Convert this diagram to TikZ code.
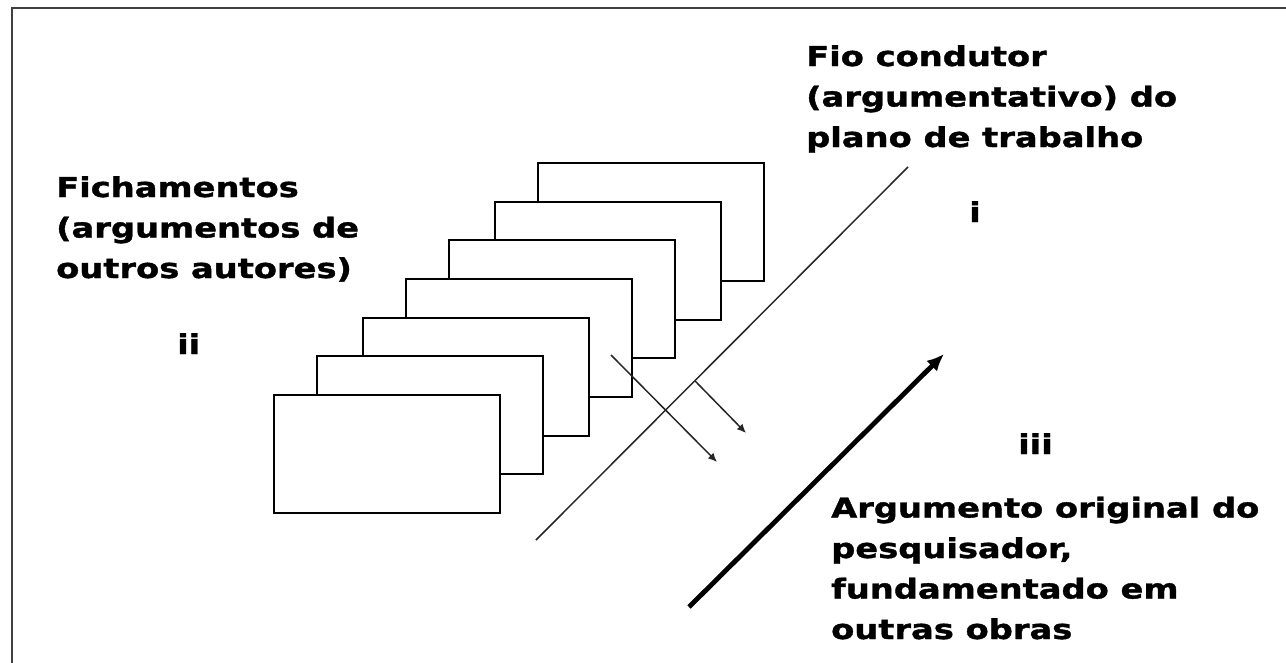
\documentclass[tikz,border=0pt]{standalone}
\usepackage{fontspec}
\newfontfamily\lbl[FakeStretch=1.23,FakeBold=1.3]{DejaVu Sans}
\usetikzlibrary{arrows.meta}
\begin{document}
\begin{tikzpicture}[x=1pt,y=-1pt,
  card/.style={draw=black,line width=2.4pt,fill=white,minimum width=226pt,minimum height=118pt,inner sep=0pt,anchor=north west},
  label/.style={anchor=base west,inner sep=0pt,align=left,font=\lbl\bfseries\fontsize{27.4}{40.5}\selectfont},
  thin/.style={line width=1.5pt,black!85},
  smallarrow/.style={thin,-{Latex[length=9pt,width=8pt]}},
  bigarrow/.style={line width=4.8pt,-{Latex[length=17pt,width=15pt]}}]
\useasboundingbox (0,0) rectangle (1286,662);
% frame
\draw[line width=2.8pt,black!75] (12,675) -- (12,8) -- (1295,8);
% cards (back to front)
\node[card] (c7) at (537,162) {};
\node[card] (c6) at (494,201) {};
\node[card] (c5) at (448,239) {};
\node[card] (c4) at (405,278) {};
\node[card] (c3) at (362,317) {};
\node[card] (c2) at (316,355) {};
\node[card] (c1) at (273,394) {};
% guiding line
\coordinate (d1) at (536,540);
\coordinate (d2) at (908,167);
\draw[thin] (d1) -- coordinate[pos=0.427] (p) (d2);
% crossing arrows
\coordinate (a1s) at (611,355);
\coordinate (a1e) at (717,462);
\coordinate (a2e) at (746,433);
\draw[smallarrow] (a1s) -- (a1e);
\draw[smallarrow] (p) -- (a2e);
% thick arrow
\coordinate (b1) at (689,607);
\coordinate (b2) at (944,354);
\draw[bigarrow] (b1) -- (b2);
% labels (base = last line baseline)
\node[label] (fich) at (56,278) {Fichamentos\\(argumentos de\\outros autores)};
\node[label] (ii) at (177,354) {ii};
\node[label] (fio) at (806,147) {Fio condutor\\(argumentativo) do\\plano de trabalho};
\node[label] (i) at (969,222) {i};
\node[label] (iii) at (1018,454) {iii};
\node[label] (arg) at (831,639) {Argumento original do\\pesquisador,\\fundamentado em\\outras obras};
\end{tikzpicture}
\end{document}
